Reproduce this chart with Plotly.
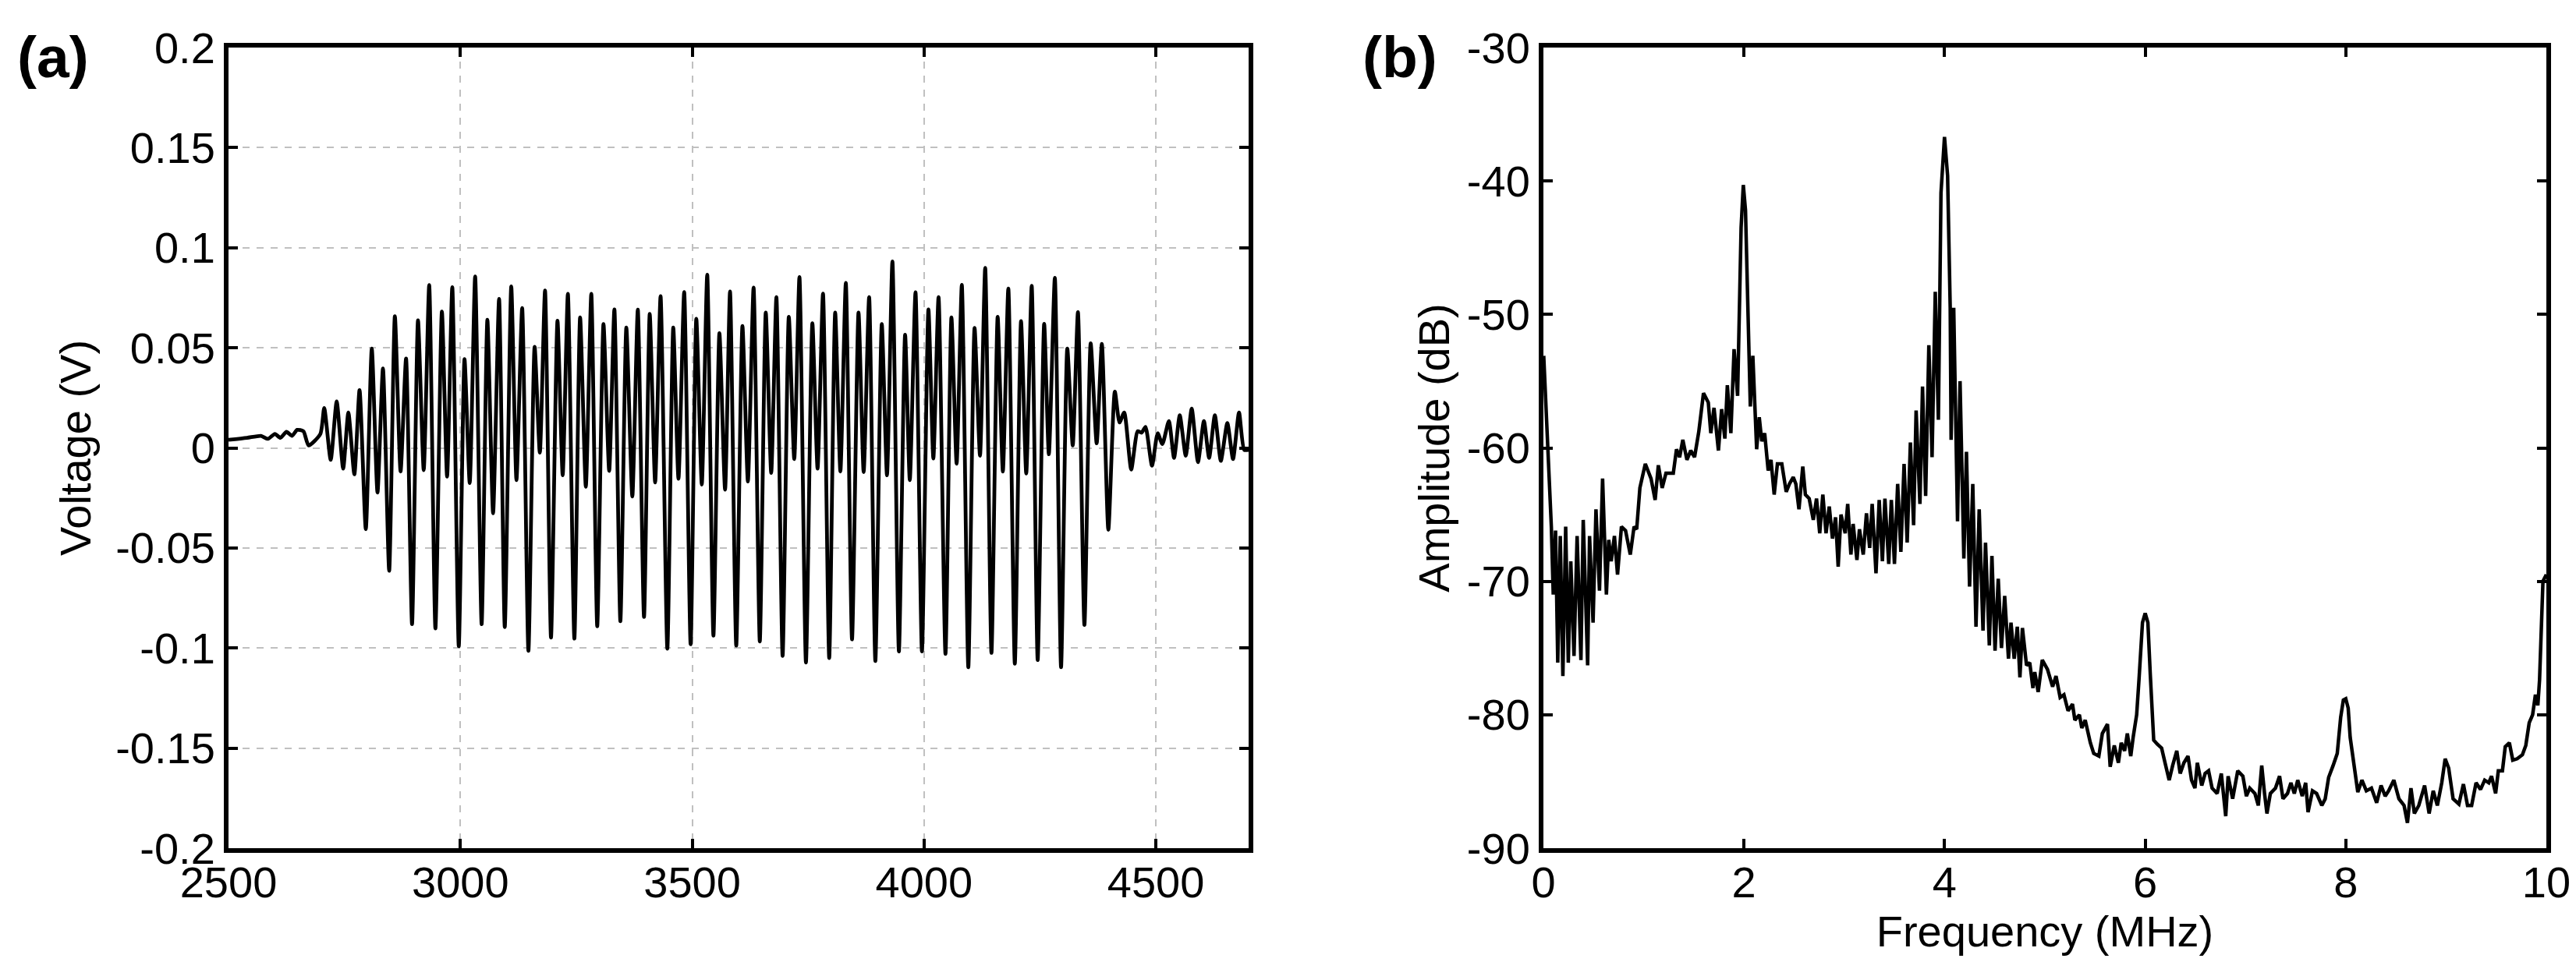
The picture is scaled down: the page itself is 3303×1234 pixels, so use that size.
import plotly.graph_objects as go

# ---------------- data: panel (a) time-domain burst ----------------
wave_t = [2500, 2540, 2570, 2585, 2600, 2612, 2625, 2637, 2648, 2661.6, 2672.8, 2698.0,
          2706.4, 2720.4, 2733.3, 2747.3, 2758.5, 2771.4, 2782.6, 2796.1, 2809.0, 2821.3,
          2833.1, 2846.5, 2858.8, 2871.1, 2882.9, 2895.8, 2908.7, 2921.0, 2932.8, 2946.2,
          2960.2, 2971.4, 2982.6, 2996.6, 3009.0, 3020.2, 3031.9, 3045.9, 3058.3, 3070.6,
          3083.5, 3095.8, 3109.8, 3121.0, 3133.3, 3146.8, 3160.2, 3171.4, 3182.6, 3195.5,
          3209.5, 3220.7, 3231.9, 3245.9, 3258.3, 3270.6, 3282.4, 3295.2, 3308.7, 3321.0,
          3332.2, 3345.1, 3358.0, 3370.9, 3382.7, 3396.1, 3408.4, 3420.1, 3431.8, 3446.4,
          3459.2, 3470.4, 3482.7, 3496.6, 3508.9, 3520.7, 3532.4, 3545.8, 3558.7, 3570.9,
          3581.6, 3595.0, 3608.4, 3620.1, 3632.4, 3645.8, 3658.7, 3670.4, 3681.6, 3695.0,
          3708.4, 3720.1, 3731.3, 3745.3, 3759.2, 3770.4, 3782.1, 3795.5, 3808.4, 3819.6,
          3831.3, 3844.7, 3858.7, 3869.8, 3881.6, 3895.0, 3908.9, 3920.1, 3931.8, 3945.8,
          3959.2, 3969.3, 3981.6, 3995.5, 4009.5, 4020.1, 4031.3, 4046.2, 4059.1, 4070.3,
          4081.5, 4095.5, 4109.0, 4120.7, 4131.9, 4145.4, 4158.8, 4170.0, 4181.8, 4195.8,
          4209.2, 4220.4, 4232.2, 4245.1, 4259.1, 4269.2, 4282.1, 4295.5, 4309.0, 4320.7,
          4331.9, 4345.9, 4359.4, 4372.3, 4383.5, 4397.5, 4411.5, 4421.6, 4431.7, 4446.8,
          4460.8, 4469.2, 4477.6, 4491.6, 4503.9, 4514.0, 4528.0, 4539.2, 4551.5, 4564.4,
          4577.3, 4590.8, 4603.6, 4614.8, 4627.2, 4640.1, 4654.1, 4666.4, 4679.3, 4690.5,
          4700]
wave_v = [0.004, 0.005, 0.006, 0.0045, 0.007, 0.005, 0.008, 0.006, 0.009, 0.0083, 0.0012, 0.0069,
          0.0199, -0.0060, 0.0232, -0.0104, 0.0177, -0.0132, 0.0289, -0.0406, 0.0496, -0.0223,
          0.0397, -0.0614, 0.0658, -0.0118, 0.0446, -0.0881, 0.0637, -0.0111, 0.0813, -0.0902,
          0.0681, -0.0144, 0.0803, -0.0991, 0.0443, -0.0176, 0.0856, -0.0881, 0.0640, -0.0327,
          0.0744, -0.0895, 0.0807, -0.0161, 0.0699, -0.1014, 0.0505, -0.0024, 0.0786, -0.0948,
          0.0635, -0.0137, 0.0770, -0.0953, 0.0652, -0.0194, 0.0770, -0.0891, 0.0619, -0.0115,
          0.0692, -0.0866, 0.0601, -0.0243, 0.0691, -0.0845, 0.0669, -0.0173, 0.0758, -0.1003,
          0.0601, -0.0154, 0.0778, -0.0981, 0.0645, -0.0183, 0.0865, -0.0938, 0.0573, -0.0209,
          0.0781, -0.0988, 0.0609, -0.0168, 0.0801, -0.0967, 0.0676, -0.0125, 0.0753, -0.1039,
          0.0655, -0.0056, 0.0853, -0.1072, 0.0623, -0.0104, 0.0771, -0.1050, 0.0676, -0.0118,
          0.0824, -0.0957, 0.0676, -0.0121, 0.0753, -0.1065, 0.0619, -0.0137, 0.0931, -0.1017,
          0.0565, -0.0161, 0.0777, -0.1017, 0.0692, -0.0053, 0.0753, -0.1029, 0.0652, -0.0079,
          0.0814, -0.1096, 0.0599, -0.0039, 0.0899, -0.1024, 0.0655, -0.0118, 0.0796, -0.1078,
          0.0633, -0.0128, 0.0810, -0.1060, 0.0620, -0.0032, 0.0849, -0.1096, 0.0496, 0.0012,
          0.0678, -0.0885, 0.0522, 0.0023, 0.0519, -0.0409, 0.0281, 0.0127, 0.0177, -0.0108,
          0.0083, 0.0076, 0.0105, -0.0089, 0.0073, 0.0019, 0.0134, -0.0050, 0.0163, -0.0039,
          0.0196, -0.0071, 0.0134, -0.0050, 0.0163, -0.0065, 0.0124, -0.0056, 0.0177, -0.0010,
          -0.001]

# ---------------- data: panel (b) spectrum ----------------
freq_mhz = [0.003, 0.025, 0.057, 0.079, 0.098, 0.121, 0.143, 0.168, 0.194, 0.222, 0.248, 0.273,
            0.305, 0.336, 0.374, 0.397, 0.422, 0.441, 0.460, 0.495, 0.524, 0.559, 0.590, 0.628,
            0.651, 0.676, 0.708, 0.739, 0.778, 0.819, 0.866, 0.904, 0.930, 0.962, 1.016, 1.073,
            1.114, 1.146, 1.184, 1.222, 1.295, 1.327, 1.358, 1.390, 1.431, 1.469, 1.507, 1.549,
            1.596, 1.644, 1.669, 1.701, 1.745, 1.777, 1.809, 1.834, 1.869, 1.901, 1.936, 1.971,
            1.993, 2.015, 2.041, 2.063, 2.088, 2.126, 2.152, 2.177, 2.206, 2.241, 2.269, 2.301,
            2.333, 2.377, 2.421, 2.453, 2.491, 2.517, 2.548, 2.586, 2.612, 2.650, 2.691, 2.723,
            2.755, 2.786, 2.818, 2.850, 2.882, 2.913, 2.939, 2.967, 3.009, 3.034, 3.066, 3.088,
            3.126, 3.151, 3.189, 3.221, 3.253, 3.278, 3.316, 3.348, 3.380, 3.405, 3.443, 3.469,
            3.500, 3.532, 3.564, 3.596, 3.627, 3.659, 3.691, 3.716, 3.754, 3.780, 3.811, 3.843,
            3.875, 3.907, 3.938, 3.964, 3.999, 4.030, 4.056, 4.065, 4.091, 4.129, 4.154, 4.192,
            4.218, 4.249, 4.281, 4.313, 4.345, 4.383, 4.408, 4.446, 4.472, 4.503, 4.535, 4.567,
            4.599, 4.637, 4.662, 4.694, 4.725, 4.751, 4.776, 4.817, 4.849, 4.881,
            4.899, 4.933, 4.974, 5.026, 5.077, 5.111, 5.152, 5.190, 5.231, 5.275, 5.299, 5.344,
            5.368, 5.402, 5.453, 5.487, 5.538, 5.573, 5.624, 5.651, 5.692, 5.733, 5.761, 5.795,
            5.822, 5.856, 5.880, 5.915, 5.938, 5.973, 6.000, 6.027, 6.051, 6.085, 6.120, 6.164,
            6.198, 6.239, 6.274, 6.315, 6.349, 6.386, 6.427, 6.462, 6.496, 6.520, 6.564, 6.598,
            6.632, 6.667, 6.718, 6.759, 6.803, 6.827, 6.872, 6.923, 6.974, 7.009, 7.043, 7.094,
            7.128, 7.162, 7.190, 7.214, 7.248, 7.299, 7.340, 7.374, 7.419, 7.453, 7.487, 7.521,
            7.566, 7.600, 7.624, 7.668, 7.709, 7.761, 7.795, 7.829, 7.874, 7.915, 7.949, 7.976,
            8.000, 8.024, 8.044, 8.079, 8.120, 8.161, 8.205, 8.256, 8.308, 8.352, 8.393, 8.427,
            8.479, 8.530, 8.581, 8.615, 8.650, 8.684, 8.728, 8.786, 8.831, 8.872, 8.913, 8.957,
            8.991, 9.026, 9.070, 9.128, 9.173, 9.214, 9.255, 9.299, 9.344, 9.385, 9.426, 9.453,
            9.494, 9.521, 9.562, 9.590, 9.631, 9.665, 9.709, 9.761, 9.795, 9.829, 9.863, 9.891,
            9.915, 9.932, 9.949, 9.966, 10.0]
amp_db = [-53.1, -56.9, -61.7, -65.9, -71.0, -66.2, -76.1, -66.6, -77.1, -65.9, -76.1, -68.5,
          -75.6, -66.6, -75.9, -65.4, -71.5, -76.3, -66.6, -73.1, -64.6, -70.7, -62.3, -71.0,
          -66.9, -68.5, -66.6, -69.5, -65.9, -66.2, -68.0, -65.9, -66.1, -63.0, -61.2, -62.3,
          -63.9, -61.3, -63.0, -61.9, -61.9, -60.1, -60.7, -59.4, -60.9, -60.2, -60.7, -58.8,
          -55.9, -56.6, -58.9, -57.0, -60.2, -57.1, -59.3, -55.3, -58.9, -52.6, -56.1, -43.5,
          -40.3, -42.2, -50.2, -56.9, -53.1, -60.1, -57.7, -59.5, -58.9, -61.7, -60.9, -63.5,
          -61.2, -61.2, -63.3, -62.7, -62.2, -62.7, -64.6, -61.4, -63.5, -63.8, -65.4, -63.8,
          -66.4, -63.5, -66.4, -64.4, -66.8, -65.2, -68.9, -65.0, -66.4, -64.2, -68.0, -65.7,
          -68.4, -66.1, -68.0, -64.9, -67.5, -64.2, -69.4, -63.9, -68.5, -63.8, -68.7, -63.9,
          -68.7, -62.7, -67.8, -61.2, -67.1, -59.6, -65.8, -57.2, -64.2, -55.4, -63.6, -52.3,
          -60.7, -48.3, -57.9, -40.9, -36.7, -39.6, -49.5, -59.4, -49.5, -65.5, -55.0, -68.3,
          -60.3, -70.4, -62.7, -73.4, -64.6, -73.7, -67.1, -74.8, -68.1, -75.2, -69.8, -75.0,
          -71.1, -75.8, -73.1, -75.8, -73.4, -77.2, -73.5, -76.3, -76.1, -78.0,
          -76.8, -78.3, -75.9, -76.6, -77.9, -77.1, -78.7, -78.5, -79.7, -79.2, -80.4, -80.0,
          -81.0, -80.4, -82.1, -82.9, -83.1, -81.4, -80.7, -83.9, -82.3, -83.6, -82.1, -82.7,
          -81.4, -83.1, -81.7, -80.0, -77.4, -73.1, -72.4, -73.1, -77.0, -81.9, -82.2, -82.5,
          -83.6, -84.9, -83.8, -82.7, -84.4, -83.6, -83.1, -84.9, -85.5, -83.6, -85.3, -84.4,
          -84.2, -85.5, -85.9, -84.4, -87.6, -84.6, -86.3, -84.2, -84.6, -86.1, -85.5, -85.9,
          -86.8, -83.8, -85.9, -87.4, -85.9, -85.5, -84.6, -86.3, -85.9, -85.1, -85.9, -84.9,
          -86.1, -85.1, -87.3, -85.7, -85.9, -86.8, -86.3, -84.7, -83.8, -82.9, -80.2, -78.9,
          -78.8, -79.5, -81.7, -83.4, -85.8, -84.9, -85.7, -85.5, -86.6, -85.3, -86.1, -85.7,
          -84.9, -86.3, -86.8, -88.1, -85.5, -87.4, -86.8, -85.3, -87.4, -85.7, -86.8, -85.1,
          -83.3, -84.0, -86.3, -86.7, -85.2, -86.8, -86.8, -85.1, -85.6, -84.9, -85.1, -84.6,
          -85.9, -84.2, -84.2, -82.4, -82.1, -83.4, -83.3, -83.0, -82.3, -80.6, -80.0, -78.5,
          -79.3, -77.4, -74.2, -70.0, -69.5]

# ---------------- ticks ----------------
time_ticks = [2500, 3000, 3500, 4000, 4500]
time_tick_text = ["2500", "3000", "3500", "4000", "4500"]
volt_ticks = [-0.2, -0.15, -0.1, -0.05, 0, 0.05, 0.1, 0.15, 0.2]
volt_tick_text = ["-0.2", "-0.15", "-0.1", "-0.05", "0", "0.05", "0.1", "0.15", "0.2"]
freq_ticks = [0, 2, 4, 6, 8, 10]
freq_tick_text = ["0", "2", "4", "6", "8", "10"]
db_ticks = [-90, -80, -70, -60, -50, -40, -30]
db_tick_text = ["-90", "-80", "-70", "-60", "-50", "-40", "-30"]

FONT = "Liberation Sans, Arial, sans-serif"
W, H = 3303, 1234

fig = go.Figure()
fig.add_trace(go.Scatter(x=wave_t, y=wave_v, mode="lines",
                         line=dict(color="black", width=4.8, shape="spline", smoothing=0.6),
                         xaxis="x", yaxis="y", showlegend=False))
fig.add_trace(go.Scatter(x=freq_mhz, y=amp_db, mode="lines",
                         line=dict(color="black", width=4.5),
                         xaxis="x2", yaxis="y2", showlegend=False))

axis_common = dict(showline=True, linecolor="black", linewidth=6, mirror="ticks",
                   ticks="inside", ticklen=12, tickwidth=4, tickcolor="black",
                   tickfont=dict(family=FONT, size=56, color="black"),
                   zeroline=False, automargin=False, tickmode="array")
grid_a = dict(showgrid=True, gridcolor="#c0c0c0", gridwidth=2, griddash="dash")

ybot = (H - 1080) / H
ytop = (H - 53) / H

fig.update_layout(
    width=W, height=H,
    margin=dict(l=0, r=0, t=0, b=0),
    paper_bgcolor="white", plot_bgcolor="white",
    template="none",
    xaxis=dict(domain=[285 / W, 1593 / W], range=[2500, 4700], anchor="y",
               tickvals=time_ticks, ticktext=time_tick_text, ticklabelstandoff=-10,
               **grid_a, **axis_common),
    yaxis=dict(domain=[ybot, ytop], range=[-0.2, 0.2], anchor="x",
               tickvals=volt_ticks, ticktext=volt_tick_text, **grid_a, **axis_common,
               title=dict(text="Voltage (V)", font=dict(family=FONT, size=56, color="black"),
                          standoff=16)),
    xaxis2=dict(domain=[1971 / W, 3257 / W], range=[0, 10], anchor="y2",
                tickvals=freq_ticks, ticktext=freq_tick_text, ticklabelstandoff=-10,
                showgrid=False, **axis_common,
                title=dict(text="Frequency (MHz)", font=dict(family=FONT, size=56, color="black"),
                           standoff=8)),
    yaxis2=dict(domain=[ybot, ytop], range=[-90, -30], anchor="x2",
                tickvals=db_ticks, ticktext=db_tick_text, showgrid=False, **axis_common,
                title=dict(text="Amplitude (dB)", font=dict(family=FONT, size=56, color="black"),
                           standoff=6)),
    annotations=[
        dict(text="<b>(a)</b>", x=60 / W, y=1 - 65 / H, xref="paper", yref="paper",
             xanchor="center", yanchor="middle", showarrow=False,
             font=dict(family=FONT, size=75, color="black")),
        dict(text="<b>(b)</b>", x=1787 / W, y=1 - 65 / H, xref="paper", yref="paper",
             xanchor="center", yanchor="middle", showarrow=False,
             font=dict(family=FONT, size=75, color="black")),
    ],
)

fig.write_html("out.html")
